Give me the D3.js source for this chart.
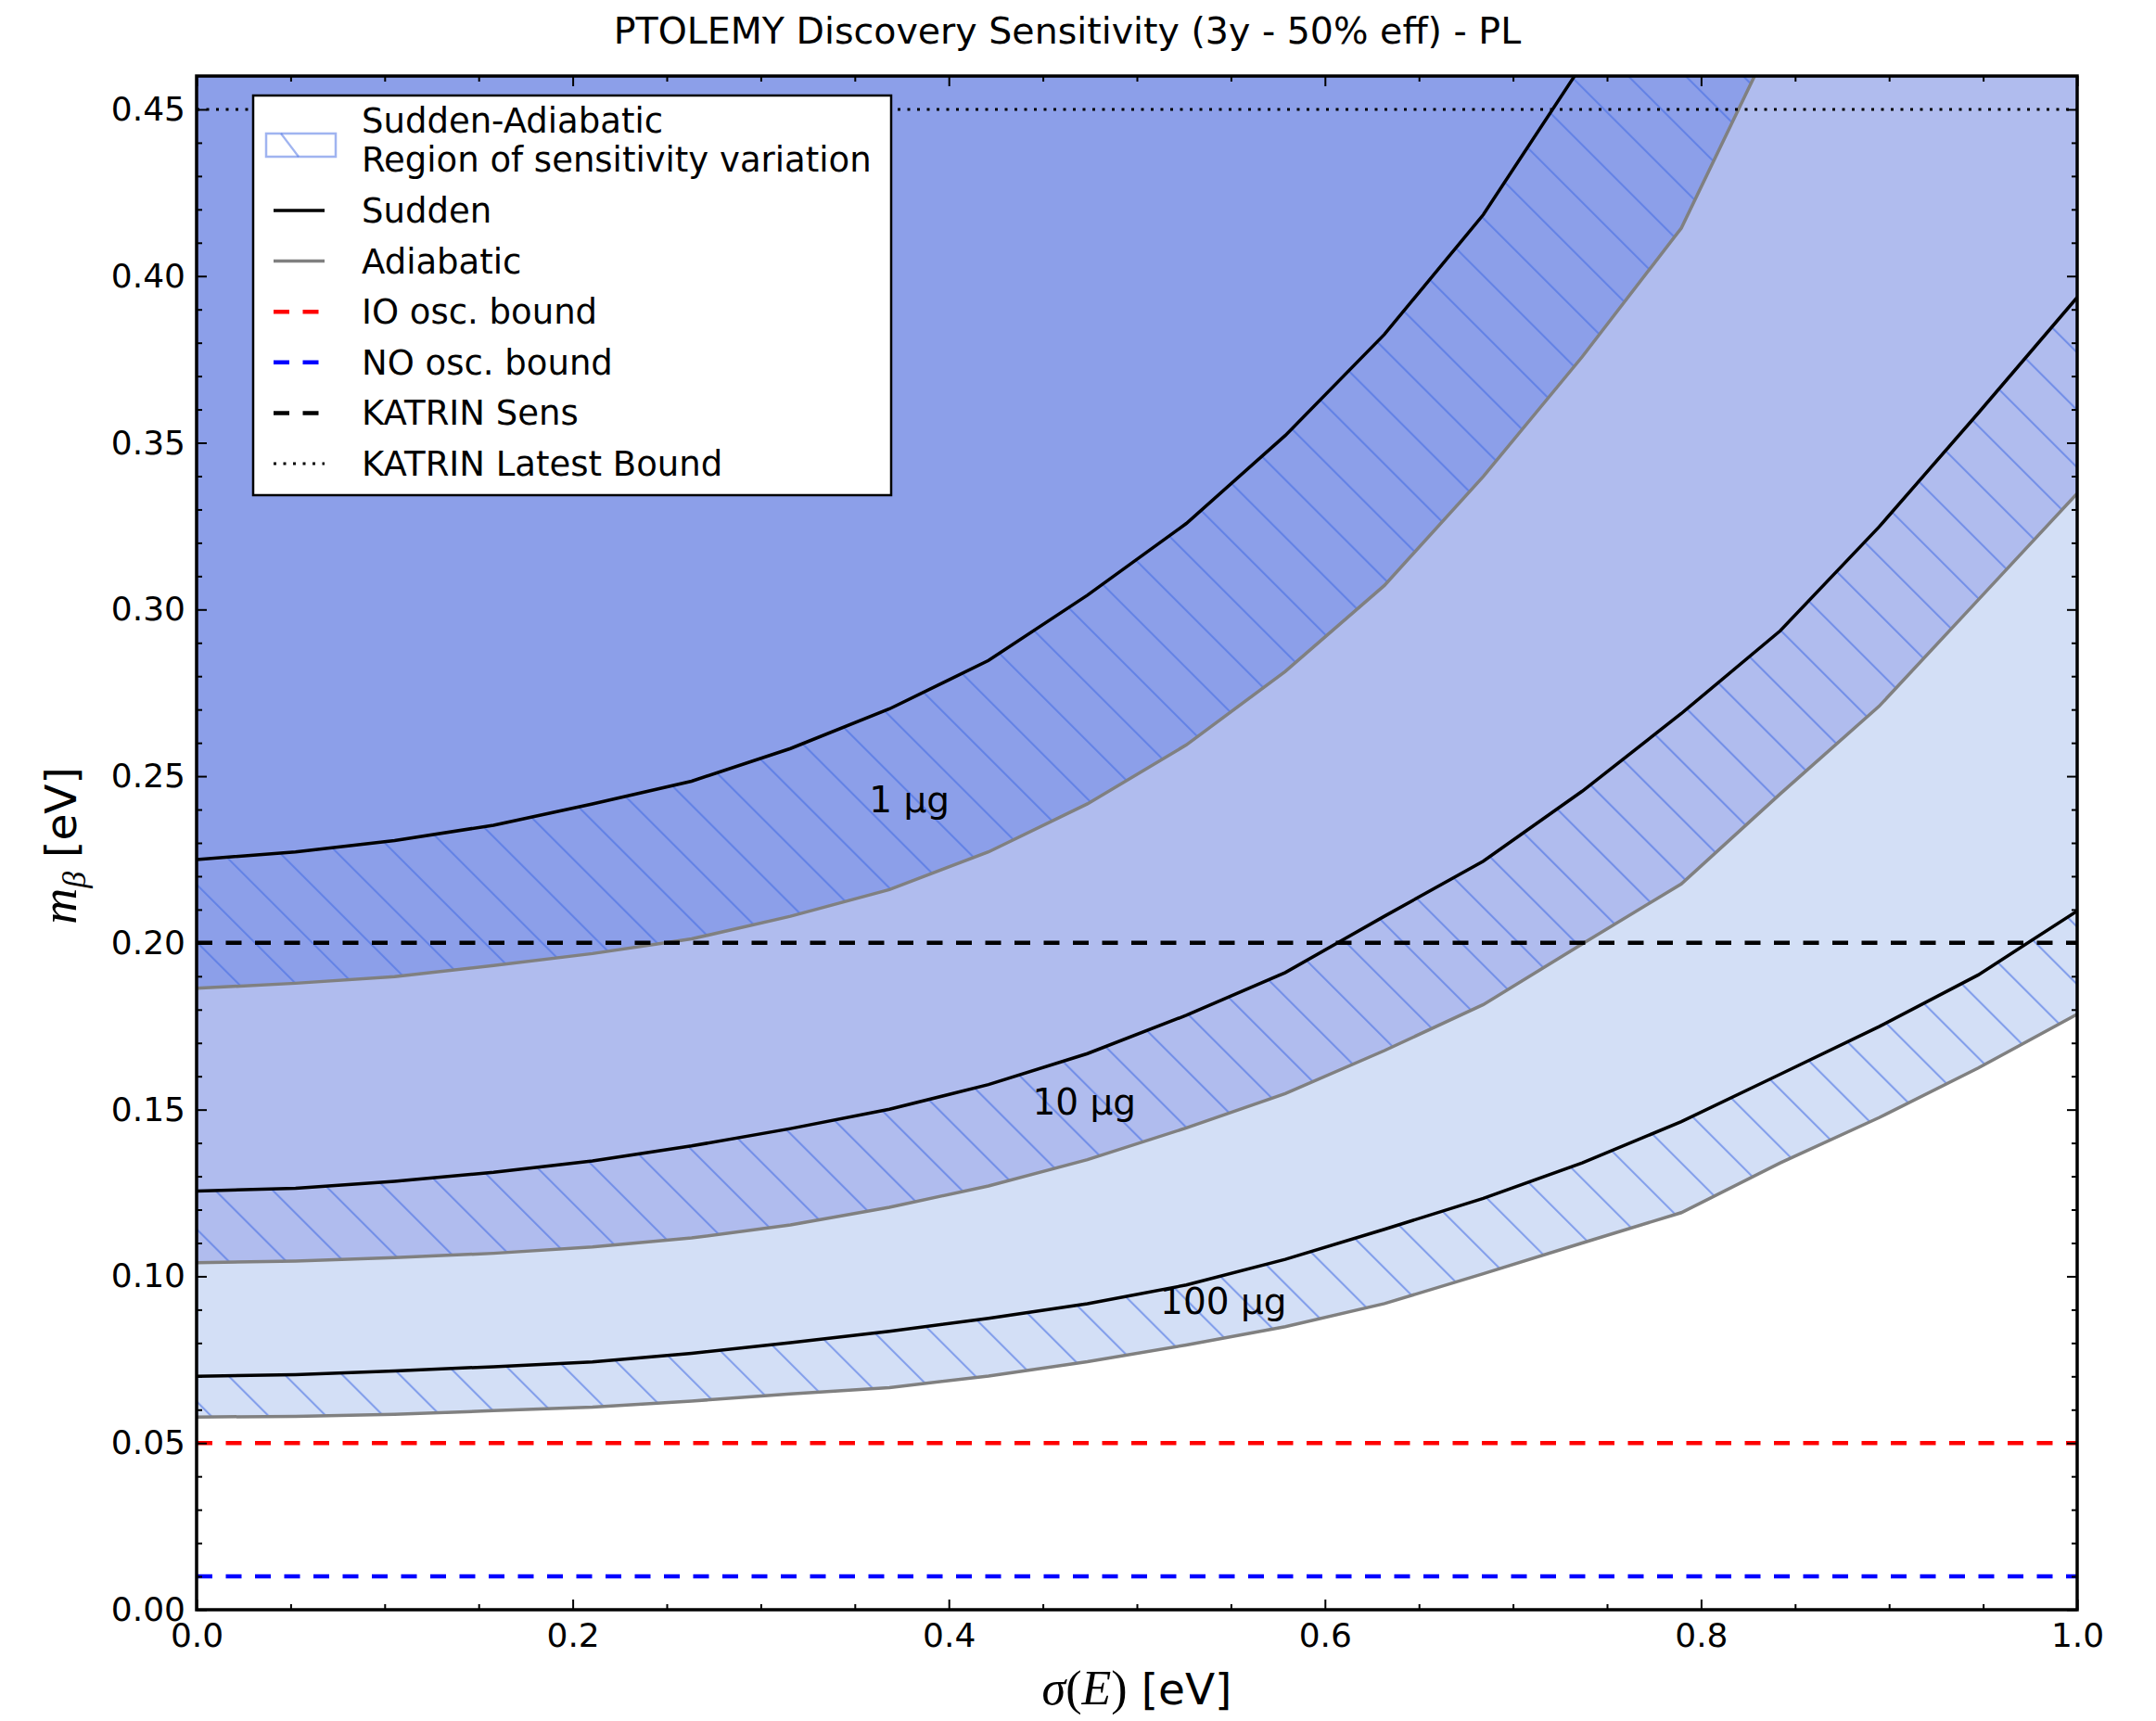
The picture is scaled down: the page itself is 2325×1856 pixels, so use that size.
<!DOCTYPE html>
<html><head><meta charset="utf-8">
<script src="https://cdn.jsdelivr.net/npm/d3@7"></script>
<style>
body{margin:0;background:#fff;}
text{font-family:"DejaVu Sans",sans-serif;fill:#000;}
</style></head>
<body>
<svg id="chart" width="2325" height="1856"></svg>
<script>
// ---------------- data ----------------
const sigmaE = [0.0000,0.0526,0.1053,0.1579,0.2105,0.2632,0.3158,0.3684,0.4211,0.4737,0.5263,0.5789,0.6316,0.6842,0.7368,0.7895,0.8421,0.8947,0.9474,1.0000];
const sudden1   = [0.2250,0.2273,0.2307,0.2353,0.2417,0.2485,0.2583,0.2702,0.2847,0.3043,0.3258,0.3522,0.3825,0.4184,0.4635];
const adiabatic1= [0.1864,0.1879,0.1899,0.1932,0.1968,0.2012,0.2080,0.2160,0.2273,0.2417,0.2594,0.2814,0.3072,0.3399,0.3758,0.4144,0.4760];
const sudden10  = [0.1256,0.1264,0.1285,0.1312,0.1346,0.1391,0.1443,0.1501,0.1575,0.1668,0.1783,0.1911,0.2080,0.2245,0.2455,0.2688,0.2936,0.3248,0.3589,0.3936];
const adiabatic10=[0.1041,0.1046,0.1056,0.1069,0.1088,0.1115,0.1154,0.1207,0.1271,0.1350,0.1445,0.1548,0.1677,0.1815,0.1997,0.2177,0.2447,0.2710,0.3029,0.3348];
const sudden100 = [0.0700,0.0705,0.0716,0.0729,0.0743,0.0769,0.0801,0.0835,0.0874,0.0918,0.0974,0.1051,0.1141,0.1234,0.1340,0.1464,0.1606,0.1749,0.1904,0.2096];
const adiabatic100=[0.0578,0.0580,0.0586,0.0597,0.0608,0.0626,0.0647,0.0666,0.0701,0.0744,0.0794,0.0849,0.0918,0.1008,0.1100,0.1191,0.1340,0.1476,0.1625,0.1786];
const massLabels = ["1 µg","10 µg","100 µg"];
const massLabelX = [0.379,0.472,0.546];
const massLabelY = [0.243,0.1523,0.0926];
const boundNames = ["IO osc. bound","NO osc. bound","KATRIN Sens","KATRIN Latest Bound"];
const boundValues = [0.05,0.01,0.20,0.45];
const xTicks = [0.0,0.2,0.4,0.6,0.8,1.0];
const yTicks = [0.00,0.05,0.10,0.15,0.20,0.25,0.30,0.35,0.40,0.45];
const xMinor = [0.05,0.1,0.15,0.25,0.3,0.35,0.45,0.5,0.55,0.65,0.7,0.75,0.85,0.9,0.95];
const yMinor = [0.01,0.02,0.03,0.04,0.06,0.07,0.08,0.09,0.11,0.12,0.13,0.14,0.16,0.17,0.18,0.19,0.21,0.22,0.23,0.24,0.26,0.27,0.28,0.29,0.31,0.32,0.33,0.34,0.36,0.37,0.38,0.39,0.41,0.42,0.43,0.44];
const titleText = "PTOLEMY Discovery Sensitivity (3y - 50% eff) - PL";

// ---------------- layout ----------------
const L=212, R=2240, T=82, B=1736;
const x = d3.scaleLinear().domain([0,1]).range([L,R]);
const y = d3.scaleLinear().domain([0,0.46]).range([B,T]);
const svg = d3.select("#chart");
const defs = svg.append("defs");
defs.append("clipPath").attr("id","plotclip").append("rect")
  .attr("x",L).attr("y",T).attr("width",R-L).attr("height",B-T);
const pat = defs.append("pattern").attr("id","hatch").attr("patternUnits","userSpaceOnUse")
  .attr("width",43.8).attr("height",20).attr("patternTransform","rotate(-45)");
pat.append("line").attr("x1",1).attr("y1",-5).attr("x2",1).attr("y2",25)
  .attr("stroke","rgb(65,105,225)").attr("stroke-opacity",0.55).attr("stroke-width",2.2);

const C1="#8c9fe9", C2="#b0bcee", C3="#d3dff6";
const g = svg.append("g").attr("clip-path","url(#plotclip)");

const pts = arr => arr.map((v,i)=>[sigmaE[i],v]);
const areaTop = d3.area().x(d=>x(d[0])).y0(y(0.6)).y1(d=>y(d[1]));
const line = d3.line().x(d=>x(d[0])).y(d=>y(d[1]));

// fills
[[adiabatic100,C3],[adiabatic10,C2],[adiabatic1,C1]].forEach(([a,c])=>{
  g.append("path").attr("d",areaTop(pts(a))).attr("fill",c);
});
// hatched bands
[[sudden1,adiabatic1],[sudden10,adiabatic10],[sudden100,adiabatic100]].forEach(([s,a])=>{
  const poly = pts(s).concat(pts(a).reverse());
  g.append("path").attr("d",line(poly)+"Z").attr("fill","url(#hatch)");
});
// curves
[[adiabatic1,"#808080"],[adiabatic10,"#808080"],[adiabatic100,"#808080"],
 [sudden1,"#000"],[sudden10,"#000"],[sudden100,"#000"]].forEach(([a,c])=>{
  g.append("path").attr("d",line(pts(a))).attr("fill","none").attr("stroke",c).attr("stroke-width",3.5);
});
// bound lines
const boundStyles = [
  {c:"#ff0000",dash:"17,14.5",w:4.5},
  {c:"#0000ff",dash:"17,14.5",w:4.5},
  {c:"#000000",dash:"17,14.5",w:4.5},
  {c:"#000000",dash:"3,7.5",w:3}
];
boundValues.forEach((v,i)=>{
  const s=boundStyles[i];
  g.append("line").attr("x1",x(0)).attr("x2",x(1)).attr("y1",y(v)).attr("y2",y(v))
   .attr("stroke",s.c).attr("stroke-width",s.w).attr("stroke-dasharray",s.dash);
});
// contour labels
massLabels.forEach((t,i)=>{
  g.append("text").attr("x",x(massLabelX[i])).attr("y",y(massLabelY[i]))
   .attr("text-anchor","middle").attr("dominant-baseline","central")
   .attr("font-size",39).text(t);
});

// ---------------- axes ----------------
function styleAxis(sel){ sel.select(".domain").remove(); sel.selectAll("line").attr("stroke","#000").attr("stroke-width",2); sel.selectAll("text").attr("font-size",36).attr("font-family","DejaVu Sans"); }
svg.append("g").attr("transform",`translate(0,${B})`)
  .call(d3.axisBottom(x).tickValues(xTicks).tickSize(-11).tickPadding(14).tickFormat(d3.format(".1f"))).call(styleAxis);
svg.append("g").attr("transform",`translate(0,${B})`)
  .call(d3.axisBottom(x).tickValues(xMinor).tickSize(-6).tickFormat("")).call(styleAxis);
svg.append("g").attr("transform",`translate(0,${T})`)
  .call(d3.axisTop(x).tickValues(xTicks).tickSize(-11).tickFormat("")).call(styleAxis);
svg.append("g").attr("transform",`translate(0,${T})`)
  .call(d3.axisTop(x).tickValues(xMinor).tickSize(-6).tickFormat("")).call(styleAxis);
svg.append("g").attr("transform",`translate(${L},0)`)
  .call(d3.axisLeft(y).tickValues(yTicks).tickSize(-11).tickPadding(12).tickFormat(d3.format(".2f"))).call(styleAxis);
svg.append("g").attr("transform",`translate(${L},0)`)
  .call(d3.axisLeft(y).tickValues(yMinor).tickSize(-6).tickFormat("")).call(styleAxis);
svg.append("g").attr("transform",`translate(${R},0)`)
  .call(d3.axisRight(y).tickValues(yTicks).tickSize(-11).tickFormat("")).call(styleAxis);
svg.append("g").attr("transform",`translate(${R},0)`)
  .call(d3.axisRight(y).tickValues(yMinor).tickSize(-6).tickFormat("")).call(styleAxis);

svg.append("rect").attr("x",L).attr("y",T).attr("width",R-L).attr("height",B-T)
  .attr("fill","none").attr("stroke","#000").attr("stroke-width",3.5);

// title
svg.append("text").attr("x",1151).attr("y",47).attr("text-anchor","middle").attr("font-size",39.5).text(titleText);

// x label
const xl = svg.append("text").attr("x",1226).attr("y",1838).attr("text-anchor","middle").attr("font-size",47);
xl.append("tspan").attr("font-family","Liberation Serif").attr("font-style","italic").attr("font-size",52).text("σ");
xl.append("tspan").attr("font-family","Liberation Serif").attr("font-size",52).text("(");
xl.append("tspan").attr("font-family","Liberation Serif").attr("font-style","italic").attr("font-size",52).text("E");
xl.append("tspan").attr("font-family","Liberation Serif").attr("font-size",52).text(")");
xl.append("tspan").attr("font-family","DejaVu Sans").text(" [eV]");

// y label
const yl = svg.append("text").attr("transform","translate(82,912) rotate(-90)").attr("text-anchor","middle").attr("font-size",47);
yl.append("tspan").attr("font-family","Liberation Serif").attr("font-style","italic").attr("font-size",54).text("m");
yl.append("tspan").attr("font-family","Liberation Serif").attr("font-style","italic").attr("font-size",36).attr("dy",10).text("β");
yl.append("tspan").attr("font-family","DejaVu Sans").attr("dy",-10).text(" [eV]");

// ---------------- legend ----------------
const lg = svg.append("g");
lg.append("rect").attr("x",273).attr("y",103).attr("width",688).attr("height",431)
  .attr("fill","#fff").attr("stroke","#000").attr("stroke-width",2.5);
lg.append("rect").attr("x",287).attr("y",144).attr("width",75).attr("height",25)
  .attr("fill","#fff").attr("stroke","rgb(65,105,225)").attr("stroke-opacity",0.5).attr("stroke-width",2.5);
lg.append("line").attr("x1",303).attr("y1",144).attr("x2",322).attr("y2",169)
  .attr("stroke","rgb(65,105,225)").attr("stroke-opacity",0.5).attr("stroke-width",2.2);
lg.append("text").attr("x",390).attr("y",143).attr("font-size",37).text("Sudden-Adiabatic");
lg.append("text").attr("x",390).attr("y",185).attr("font-size",37).text("Region of sensitivity variation");
const legLines = [
  {name:"Sudden",c:"#000",dash:null,w:3.5},
  {name:"Adiabatic",c:"#808080",dash:null,w:3.5},
  {name:boundNames[0],c:boundStyles[0].c,dash:boundStyles[0].dash,w:4.5},
  {name:boundNames[1],c:boundStyles[1].c,dash:boundStyles[1].dash,w:4.5},
  {name:boundNames[2],c:boundStyles[2].c,dash:boundStyles[2].dash,w:4.5},
  {name:boundNames[3],c:boundStyles[3].c,dash:boundStyles[3].dash,w:3}
];
legLines.forEach((d,i)=>{
  const yy = 227 + i*54.6;
  const ln = lg.append("line").attr("x1",295).attr("x2",350).attr("y1",yy).attr("y2",yy)
    .attr("stroke",d.c).attr("stroke-width",d.w);
  if(d.dash) ln.attr("stroke-dasharray",d.dash);
  lg.append("text").attr("x",390).attr("y",yy+13).attr("font-size",37).text(d.name);
});
</script>
</body></html>
